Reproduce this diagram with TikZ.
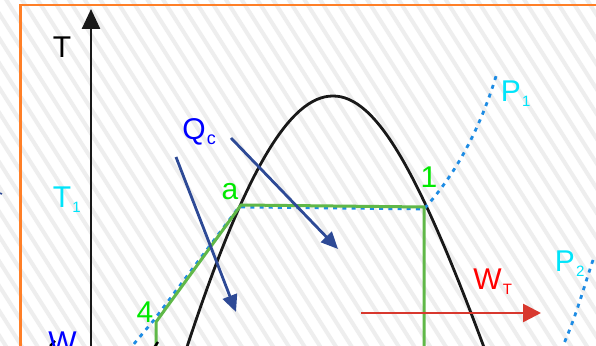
\documentclass[tikz,border=0pt]{standalone}
\usepackage{fontspec}
\setmainfont{Liberation Sans}
\usetikzlibrary{arrows.meta}

\definecolor{frameorange}{RGB}{255,127,39}
\definecolor{cyclegreen}{RGB}{96,184,72}
\definecolor{ptgreen}{RGB}{0,232,0}
\definecolor{tcyan}{RGB}{0,228,250}
\definecolor{isoblue}{RGB}{30,140,228}
\definecolor{qblue}{RGB}{0,0,255}
\definecolor{arrownavy}{RGB}{46,74,150}
\definecolor{wred}{RGB}{255,0,0}
\definecolor{arrowred}{RGB}{216,56,46}

\newcommand{\lo}[2][7.5]{\kern0.6pt\raisebox{-2.5pt}{\fontsize{#1}{#1}\selectfont #2}}

\tikzset{
  stripe/.style={gray!13, line width=2pt},
  dome/.style={black!90, line width=1.4pt},
  isobar/.style={isoblue, line width=1.4pt, dash pattern=on 2pt off 2.6pt},
  cycle/.style={cyclegreen, line width=1.5pt, line join=round},
  heat/.style={arrownavy, line width=1.4pt, -{Triangle[length=8.5pt, width=7.5pt]}},
}

\begin{document}
\begin{tikzpicture}[x=0.5pt, y=-0.5pt, every node/.style={font=\fontsize{15}{18}\selectfont, inner sep=0pt}]
    \useasboundingbox (0,0) rectangle (596,346);
    \clip (0,0) rectangle (596,346);
    \fill[white] (0,0) rectangle (596,346);
    \foreach \i in {-16,...,39}
      \draw[stripe] (\i*15.7,-10) -- ++(232,366);

    \draw[frameorange, line width=1.2pt] (20.5,360) -- (20.5,5) -- (610,5);

    % axis
    \coordinate (o) at (91,360);
    \coordinate (ttop) at (91,9);
    \draw[black!90, line width=1.3pt, -{Triangle[length=10pt, width=9pt]}] (o) -- (ttop);

    % saturation dome
    \coordinate (top) at (333,96);
    \draw[dome] (186,350) .. controls (245,170) and (290,96) .. (top)
                          .. controls (376,96) and (418,170) .. (485,350);

    % cycle points
    \coordinate (s1) at (424,207);
    \coordinate (sa) at (241,205);
    \coordinate (s4) at (156,322);
    \coordinate (b1) at (424,360);
    \coordinate (b4) at (156,360);

    % isobars
    \coordinate (p1end) at (497,73);
    \draw[isobar] (128,351) -- (154,320) -- (239,207) -- (424,209)
                  .. controls (455,175) and (480,130) .. (p1end);
    \draw[isobar] (593,260) .. controls (583,290) and (575,320) .. (561,350);

    \draw[cycle] (b4) -- (s4) -- (sa) -- (s1) -- (b1);

    % heat and work arrows
    \coordinate (qa0) at (176,157);
    \coordinate (qa1) at (236,312);
    \coordinate (qb0) at (231,138);
    \coordinate (qb1) at (338,249);
    \draw[heat] (qa0) -- (qa1);
    \draw[heat] (qb0) -- (qb1);
    \coordinate (w0) at (361,313);
    \coordinate (w1) at (541,313);
    \draw[arrowred, line width=1.3pt, -{Triangle[length=9pt, width=9pt]}] (w0) -- (w1);

    \draw[arrownavy, line width=0.8pt] (-3,192) -- (2,194);
    \draw[black, line width=1.2pt] (158,342) -- (151,352);
    \draw[black, line width=1.2pt] (55,341) -- (50,346);

    \node[anchor=base west, black] (tlab) at (52.5,58) {T};
    \node[anchor=base west, tcyan] (t1lab) at (52.5,208) {T\lo{1}};
    \node[anchor=base west, qblue] (qlab) at (182,140) {Q\lo[9]{c}};
    \node[anchor=base, ptgreen] (alab) at (230,200) {a};
    \node[anchor=base, ptgreen] (onelab) at (429,188) {1};
    \node[anchor=base, ptgreen] (fourlab) at (145,323) {4};
    \node[anchor=base west, tcyan] (p1lab) at (500.5,102) {P\lo{1}};
    \node[anchor=base west, tcyan] (p2lab) at (554.5,272) {P\lo{2}};
    \node[anchor=base west, wred] (wtlab) at (473,290) {W\lo{T}};
    \node[anchor=base west, qblue] (wlab) at (48,353) {W};
\end{tikzpicture}
\end{document}
